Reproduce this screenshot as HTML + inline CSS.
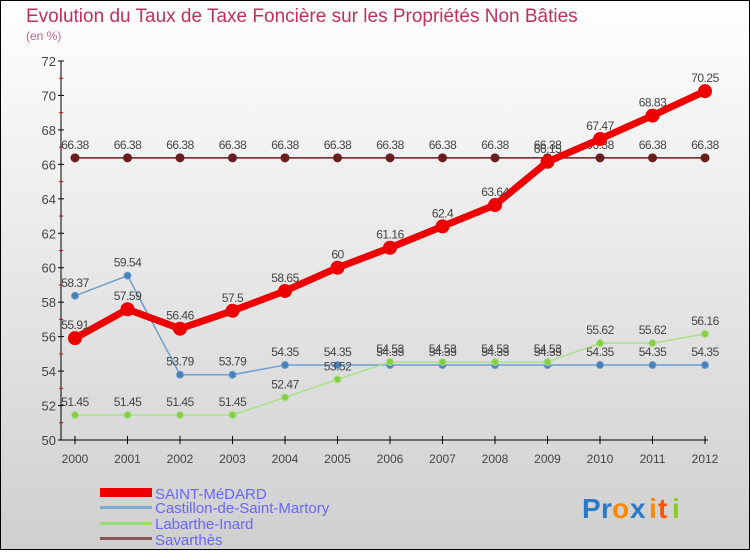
<!DOCTYPE html>
<html><head><meta charset="utf-8"><style>
body{margin:0}
svg text{font-family:"Liberation Sans",sans-serif}
</style></head><body>
<svg id="c" width="750" height="550" xmlns="http://www.w3.org/2000/svg">
<defs><linearGradient id="bg" x1="0" y1="0" x2="0" y2="1"><stop offset="0" stop-color="#ffffff"/><stop offset="1" stop-color="#cfcfcf"/></linearGradient></defs>
<rect x="0.5" y="0.5" width="749" height="549" fill="url(#bg)" stroke="#000"/>
<text x="26" y="22" font-size="19" fill="#c0305a">Evolution du Taux de Taxe Foncière sur les Propriétés Non Bâties</text>
<text x="26" y="40" font-size="12" fill="#c0608a">(en %)</text>
<g id="axes"></g><g id="series"></g>
<g>
<rect x="100" y="488" width="52" height="9" fill="#e00"/>
<text x="155" y="499" font-size="15" fill="#6666ff">SAINT-MéDARD</text>
<rect x="100" y="506" width="52" height="3" fill="#7aaad0"/>
<text x="155" y="513" font-size="15" fill="#6666ff">Castillon-de-Saint-Martory</text>
<rect x="100" y="522" width="52" height="3" fill="#99dd77"/>
<text x="155" y="529" font-size="15" fill="#6666ff">Labarthe-Inard</text>
<rect x="100" y="537" width="52" height="3" fill="#8a5555"/>
<text x="155" y="545" font-size="15" fill="#6666ff">Savarthès</text>
</g>
<g font-size="28" font-weight="bold">
<text x="582" y="518" fill="#2a7ac8">P</text><text x="601" y="518" fill="#2a7ac8">r</text><text x="612" y="518" fill="#ff8800">o</text><text x="630" y="518" fill="#2a7ac8">x</text><text x="649" y="518" fill="#ff8800">i</text><text x="658" y="518" fill="#ff5500">t</text><text x="672" y="518" fill="#88cc22">i</text>
</g>
</svg>
<script>
const years=["2000","2001","2002","2003","2004","2005","2006","2007","2008","2009","2010","2011","2012"];
const yTicks=[50,52,54,56,58,60,62,64,66,68,70,72];
const saintMedard=[55.91,57.59,56.46,57.5,58.65,60,61.16,62.4,63.64,66.15,67.47,68.83,70.25];
const castillon=[58.37,59.54,53.79,53.79,54.35,54.35,54.35,54.35,54.35,54.35,54.35,54.35,54.35];
const labarthe=[51.45,51.45,51.45,51.45,52.47,53.52,54.53,54.53,54.53,54.53,55.62,55.62,56.16];
const savarthes=[66.38,66.38,66.38,66.38,66.38,66.38,66.38,66.38,66.38,66.38,66.38,66.38,66.38];
const NS="http://www.w3.org/2000/svg";
const X=i=>75+i*52.5, Y=v=>440-(v-50)*(379/22);
function mk(t,a,p){const e=document.createElementNS(NS,t);for(const k in a)e.setAttribute(k,a[k]);p.appendChild(e);return e;}
const ax=document.getElementById('axes'), sg=document.getElementById('series');
let l=mk('line',{x1:61,y1:Y(72),x2:61,y2:440,stroke:'#000'},ax);

l=mk('line',{x1:61,y1:440,x2:708,y2:440,stroke:'#000'},ax);

yTicks.forEach((v,i)=>{mk('line',{x1:58,y1:Y(v),x2:64,y2:Y(v),stroke:'#000'},ax);
 if(i<yTicks.length-1)mk('line',{x1:59,y1:Y(v+1),x2:63,y2:Y(v+1),stroke:'#e00'},ax);
 const t=mk('text',{x:56,y:Y(v)+5,'text-anchor':'end','font-size':13,fill:'#444'},ax);t.textContent=v;
 });
years.forEach((y,i)=>{mk('line',{x1:X(i),y1:436,x2:X(i),y2:444,stroke:'#000'},ax);
 const t=mk('text',{x:X(i),y:463,'text-anchor':'middle','font-size':12,fill:'#444'},ax);t.textContent=y;
 });
function series(data,color,w,r,name,dot){
 const g=mk('g',{},sg);
 const p=mk('polyline',{points:data.map((v,i)=>X(i)+','+Y(v)).join(' '),fill:'none',stroke:color,'stroke-width':w,'stroke-linejoin':'round'},g);
 
 data.forEach((v,i)=>{const c=mk('circle',{cx:X(i),cy:Y(v),r:r,fill:dot,stroke:color,'stroke-width':1},g);
  
  const t=mk('text',{x:X(i),y:Y(v)-9,'text-anchor':'middle','font-size':12,fill:'#444','letter-spacing':'-0.5'},g);t.textContent=v;
  });
}
series(savarthes,'#6b1e1e',1.5,4,'savarthes','#6b1e1e');
series(castillon,'#6a9fcf',1.5,3.5,'castillon','#4a7fb8');
series(labarthe,'#a8e088',1.5,3.5,'labarthe','#88cc44');
series(saintMedard,'#ee0000',7,6.5,'saint-medard','#ee0000');
</script>
</body></html>
